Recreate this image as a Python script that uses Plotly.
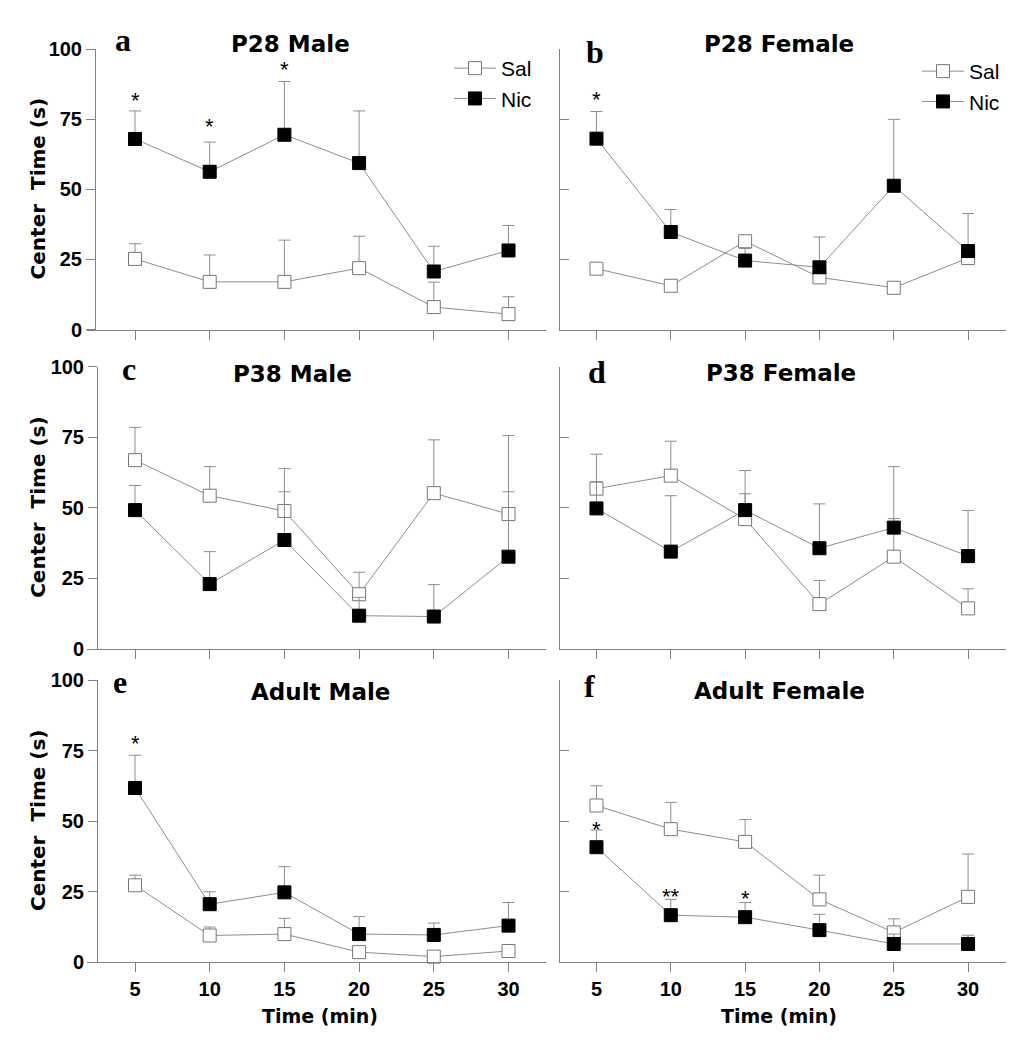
import plotly.graph_objects as go

# ---------------- data ----------------
times = [5, 10, 15, 20, 25, 30]
series_names = ["Sal", "Nic"]
panel_letters = ["a", "b", "c", "d", "e", "f"]
panel_titles = ["P28 Male", "P28 Female", "P38 Male", "P38 Female", "Adult Male", "Adult Female"]
y_ticks = [0, 25, 50, 75, 100]

sal_a = [25.2, 17.0, 17.0, 21.9, 8.0, 5.5]
sal_a_err = [5.4, 9.6, 14.9, 11.4, 8.9, 6.2]
nic_a = [68.0, 56.3, 69.5, 59.4, 20.7, 28.2]
nic_a_err = [10.0, 10.6, 19.0, 18.6, 9.0, 8.9]

sal_b = [21.7, 15.6, 31.5, 18.6, 14.9, 25.5]
sal_b_err = [0.8, 0.6, 1.5, 1.0, 0.6, 1.0]
nic_b = [68.1, 34.8, 24.6, 22.2, 51.3, 28.0]
nic_b_err = [9.7, 8.0, 4.3, 10.8, 23.7, 13.4]

sal_c = [66.9, 54.3, 48.9, 19.4, 55.2, 47.8]
sal_c_err = [11.6, 10.3, 15.0, 7.8, 18.9, 27.8]
nic_c = [49.2, 23.0, 38.6, 11.8, 11.5, 32.7]
nic_c_err = [8.7, 11.5, 17.1, 6.5, 11.3, 23.0]

sal_d = [56.8, 61.4, 46.0, 15.9, 32.7, 14.4]
sal_d_err = [12.2, 12.2, 9.0, 8.4, 13.5, 6.9]
nic_d = [49.8, 34.5, 49.2, 35.7, 43.0, 32.9]
nic_d_err = [9.5, 19.8, 14.0, 15.7, 21.6, 16.2]

sal_e = [27.2, 9.4, 9.9, 3.5, 1.9, 3.9]
sal_e_err = [3.6, 3.0, 5.6, 0.8, 0.5, 0.8]
nic_e = [61.7, 20.5, 24.7, 9.9, 9.6, 12.9]
nic_e_err = [11.6, 4.4, 9.1, 6.2, 4.2, 8.2]

sal_f = [55.5, 47.1, 42.6, 22.2, 10.5, 23.1]
sal_f_err = [7.0, 9.5, 7.9, 8.6, 4.8, 15.2]
nic_f = [40.7, 16.6, 15.9, 11.3, 6.4, 6.4]
nic_f_err = [6.1, 5.6, 5.2, 5.6, 3.5, 3.1]

# significance marks: (panel index, time, y value, label)
star_panel = [0, 0, 0, 1, 4, 5, 5, 5]
star_x = [5, 10, 15, 5, 5, 5, 10, 15]
star_y = [83.7, 74.6, 95.0, 84.2, 79.6, 49.2, 25.5, 24.7]
star_text = ["*", "*", "*", "*", "*", "*", "**", "*"]

sal_data = [(sal_a, sal_a_err), (sal_b, sal_b_err), (sal_c, sal_c_err),
            (sal_d, sal_d_err), (sal_e, sal_e_err), (sal_f, sal_f_err)]
nic_data = [(nic_a, nic_a_err), (nic_b, nic_b_err), (nic_c, nic_c_err),
            (nic_d, nic_d_err), (nic_e, nic_e_err), (nic_f, nic_f_err)]

# ---------------- layout geometry ----------------
W, H = 1029, 1050
OFF = 8  # page body margin offset


def fx(px):
    return (px - OFF) / W


def fy(py):
    return 1 - (py - OFF) / H


col_dom = [[fx(86.7), fx(545.8)], [fx(558.5), fx(1005.7)]]
col_range = [[1.767, 32.497], [2.446, 32.53]]
yaxis_pos = [[95, 558.5], [97, 558.5], [97, 558.5]]
row_px = [(49.3, 329.5), (366.7, 649), (680, 962)]
row_dom = [[fy(b), fy(t)] for (t, b) in row_px]

LINE_GRAY = "#8e8e8e"
AXIS_GRAY = "#808080"
SANS = "Liberation Sans, Arial, sans-serif"
HEAVY = "DejaVu Sans, sans-serif"
SERIF = "Liberation Serif, Times New Roman, serif"

fig = go.Figure()

for i in range(6):
    r, c = divmod(i, 2)
    ax = "" if i == 0 else str(i + 1)
    xref, yref = "x" + ax, "y" + ax
    for name, (vals, errs), fill, edge in [
        ("Sal", sal_data[i], "white", "#777777"),
        ("Nic", nic_data[i], "black", "black"),
    ]:
        fig.add_trace(go.Scatter(
            x=times, y=vals, name=name, mode="lines+markers",
            xaxis=xref, yaxis=yref,
            line=dict(color=LINE_GRAY, width=1),
            marker=dict(symbol="square", size=13, color=fill,
                        line=dict(color=edge, width=1)),
            error_y=dict(type="data", array=errs, arrayminus=[0] * len(errs),
                         symmetric=False, color=LINE_GRAY, thickness=1, width=6),
            cliponaxis=False,
            showlegend=(i < 2),
            legend=("legend" if i == 0 else "legend2"),
        ))

    xa = dict(domain=col_dom[c], range=col_range[c], anchor=yref,
              showline=True, linecolor=AXIS_GRAY, linewidth=1,
              ticks="outside", ticklen=9, tickcolor=AXIS_GRAY, tickwidth=1,
              tickvals=times, showticklabels=(r == 2),
              tickfont=dict(family=SANS, size=20, color="black", weight="bold"),
              showgrid=False, zeroline=False, fixedrange=True, automargin=False)
    ya = dict(domain=row_dom[r], range=[0, 100], anchor="free", position=fx(yaxis_pos[r][c]),
              showline=True, linecolor=AXIS_GRAY, linewidth=1,
              ticks=("outside" if c == 0 else "inside"), ticklen=9,
              tickcolor=AXIS_GRAY, tickwidth=1,
              tickvals=y_ticks, showticklabels=(c == 0),
              tickfont=dict(family=SANS, size=20, color="black", weight="bold"),
              showgrid=False, zeroline=False, fixedrange=True, automargin=False)
    fig.layout["xaxis" + ax] = xa
    fig.layout["yaxis" + ax] = ya

annotations = []
title_pos = [(290.5, 44), (779, 44), (292.3, 374), (780.5, 373), (320, 692), (779.5, 691)]
letter_pos = [(122.5, 40), (595, 52), (129.4, 369), (597, 372), (119.7, 682), (589, 686)]
for i in range(6):
    tx, ty = title_pos[i]
    annotations.append(dict(text=panel_titles[i], x=fx(tx), y=fy(ty), xref="paper", yref="paper",
                            xanchor="center", yanchor="middle", showarrow=False,
                            font=dict(family=HEAVY, size=23, color="black", weight="bold")))
    lx, ly = letter_pos[i]
    annotations.append(dict(text=panel_letters[i], x=fx(lx), y=fy(ly), xref="paper", yref="paper",
                            xanchor="center", yanchor="middle", showarrow=False,
                            font=dict(family=SERIF, size=32, color="black", weight="bold")))
for r in range(3):
    t, b = row_px[r]
    annotations.append(dict(text="Center\u00a0 Time (s)", x=fx(38), y=fy((t + b) / 2),
                            xref="paper", yref="paper", xanchor="center", yanchor="middle",
                            textangle=-90, showarrow=False,
                            font=dict(family=HEAVY, size=20, color="black", weight="bold")))
xtitle_px = [319.5, 779]
for c in range(2):
    annotations.append(dict(text="Time (min)", x=fx(xtitle_px[c]), y=fy(1016),
                            xref="paper", yref="paper", xanchor="center", yanchor="middle",
                            showarrow=False,
                            font=dict(family=HEAVY, size=19, color="black", weight="bold")))
for p, sx, sy, st in zip(star_panel, star_x, star_y, star_text):
    ax = "" if p == 0 else str(p + 1)
    annotations.append(dict(text=st, x=sx, y=sy, xref="x" + ax, yref="y" + ax,
                            xanchor="center", yanchor="middle", yshift=-6, showarrow=False,
                            font=dict(family=SANS, size=22, color="black")))

fig.update_layout(
    template="none",
    width=W, height=H, autosize=False,
    margin=dict(l=0, r=0, t=0, b=0, pad=0),
    paper_bgcolor="white", plot_bgcolor="white",
    annotations=annotations,
    legend=dict(x=fx(449), y=fy(48), xanchor="left", yanchor="top",
                bgcolor="rgba(0,0,0,0)", font=dict(family=SANS, size=21, color="black"),
                itemsizing="trace", itemwidth=42),
    legend2=dict(x=fx(917), y=fy(51), xanchor="left", yanchor="top",
                 bgcolor="rgba(0,0,0,0)", font=dict(family=SANS, size=21, color="black"),
                 itemsizing="trace", itemwidth=42),
)

fig.write_html("out.html")
